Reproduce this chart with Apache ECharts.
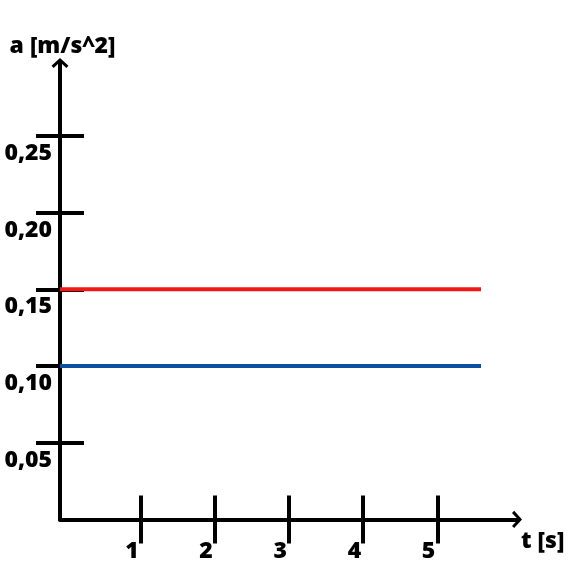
<!DOCTYPE html>
<html>
<head>
<meta charset="utf-8">
<script src="https://cdn.jsdelivr.net/npm/echarts@6/dist/echarts.min.js"></script>
<style>html,body{margin:0;padding:0;background:#fff}#c{width:580px;height:580px}</style>
</head>
<body>
<div id="c"></div>
<script>
const tTicks = [1, 2, 3, 4, 5];
const aTicks = [0.05, 0.10, 0.15, 0.20, 0.25];
const tPoints = [-0.0877, 5.59];
const redValues = [0.15, 0.15];
const blueValues = [0.10, 0.10];
const xName = 't [s]';
const yName = 'a [m/s^2]';

const FONT = 'Open Sans';
const chevron = 'path://M0,9 L10,0 L20,9 L17.5,11.5 L10,4.5 L2.5,11.5 Z';
const X_MIN = tPoints[0], X_MAX = 6.075, Y_MIN = 0, Y_MAX = 0.2975;

const lbl = {fontFamily: FONT, fontWeight: 800, fontSize: 23, color: '#000'};
const chart = echarts.init(document.getElementById('c'), null, {renderer: 'canvas'});
chart.setOption({
  animation: false,
  grid: {left: 60, right: 63, top: 63, bottom: 60.6, containLabel: false},
  xAxis: [{
    type: 'value', min: X_MIN, max: X_MAX, position: 'bottom',
    name: xName, nameLocation: 'end', nameGap: 4,
    nameTextStyle: Object.assign({}, lbl, {fontSize: 23, verticalAlign: 'top', padding: [11, 0, 0, 0]}),
    axisLine: {show: true, onZero: false, symbol: ['none', chevron], symbolSize: [22, 10], lineStyle: {color: '#000', width: 4}},
    axisTick: {show: true, inside: false, length: 24, lineStyle: {color: '#000', width: 4}, customValues: tTicks},
    axisLabel: Object.assign({}, lbl, {customValues: tTicks, margin: 21, align: 'right', padding: [0, 2, 0, 0]}),
    splitLine: {show: false}
  }, {
    type: 'value', min: X_MIN, max: X_MAX, position: 'bottom',
    axisLine: {show: false, onZero: false},
    axisTick: {show: true, inside: true, length: 24, lineStyle: {color: '#000', width: 4}, customValues: tTicks},
    axisLabel: {show: false},
    splitLine: {show: false}
  }],
  yAxis: [{
    type: 'value', min: Y_MIN, max: Y_MAX, position: 'left',
    name: yName, nameLocation: 'end', nameGap: 5,
    nameTextStyle: Object.assign({}, lbl, {fontSize: 23, padding: [0, 0, 0, 5]}),
    axisLine: {show: true, onZero: false, symbol: ['none', chevron], symbolSize: [17, 10], lineStyle: {color: '#000', width: 4}},
    axisTick: {show: true, inside: false, length: 24, lineStyle: {color: '#000', width: 4}, customValues: aTicks},
    axisLabel: Object.assign({}, lbl, {customValues: aTicks, margin: 8, verticalAlign: 'top', padding: [6, 0, 0, 0],
      formatter: v => v.toFixed(2).replace('.', ',')}),
    splitLine: {show: false}
  }, {
    type: 'value', min: Y_MIN, max: Y_MAX, position: 'left',
    axisLine: {show: false, onZero: false},
    axisTick: {show: true, inside: true, length: 24, lineStyle: {color: '#000', width: 4}, customValues: aTicks},
    axisLabel: {show: false},
    splitLine: {show: false}
  }],
  series: [{
    type: 'line', xAxisIndex: 0, yAxisIndex: 0, symbol: 'none', clip: false,
    data: tPoints.map((t, i) => [t, redValues[i]]),
    lineStyle: {color: '#f21818', width: 4}, z: 1
  }, {
    type: 'line', xAxisIndex: 0, yAxisIndex: 0, symbol: 'none', clip: false,
    data: tPoints.map((t, i) => [t, blueValues[i]]),
    lineStyle: {color: '#0b4ea2', width: 4}, z: 1
  }]
});
</script>
</body>
</html>
